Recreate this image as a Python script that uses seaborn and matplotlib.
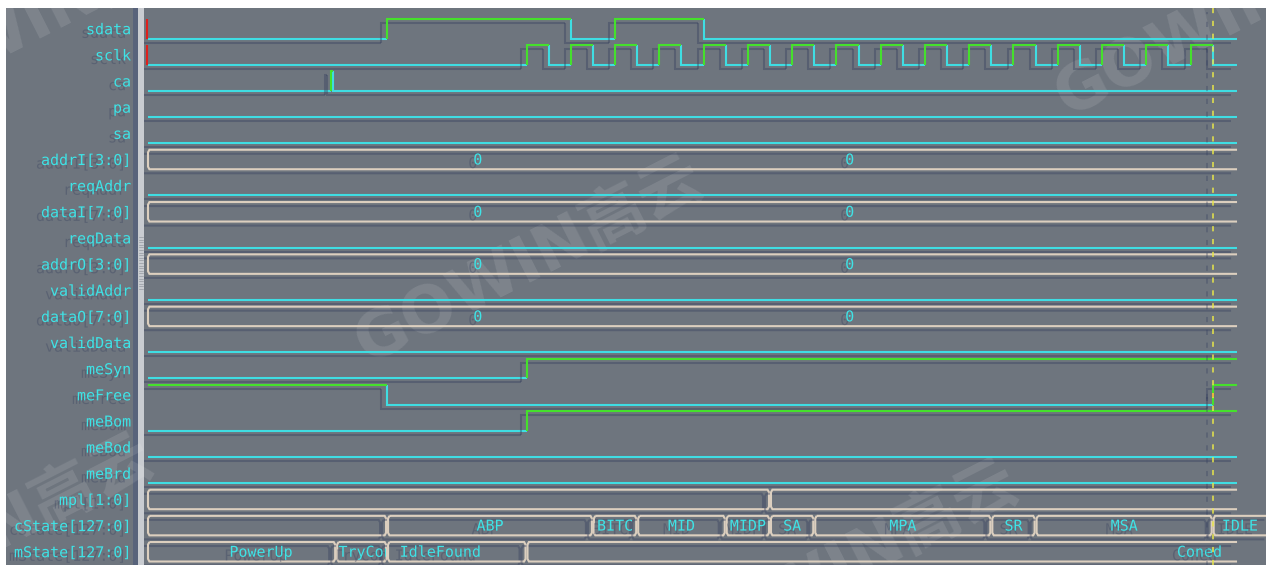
import numpy as np
import pandas as pd
import matplotlib
matplotlib.use("Agg")
import matplotlib.pyplot as plt
import matplotlib.patheffects as pe
from matplotlib.patches import Rectangle
from matplotlib.lines import Line2D
import seaborn as sns

# ---------------- signal data (times in ns) ----------------
signal_names = ["sdata", "sclk", "ca", "pa", "sa", "addrI[3:0]", "reqAddr",
                "dataI[7:0]", "reqData", "addrO[3:0]", "validAddr", "dataO[7:0]",
                "validData", "meSyn", "meFree", "meBom", "meBod", "meBrd",
                "mpl[1:0]", "cState[127:0]", "mState[127:0]"]

# single-bit signals: change times and the level held from each time on
sdata_t = [0, 108, 191, 211, 251]
sdata_v = [0, 1, 0, 1, 0]
sclk_t = [0, 171, 181, 191, 201, 211, 221, 231, 241, 251, 261, 271, 281, 291, 301,
          311, 321, 331, 341, 351, 361, 371, 381, 391, 401, 411, 421, 431, 441,
          451, 461, 471, 481]
sclk_v = [0, 1, 0, 1, 0, 1, 0, 1, 0, 1, 0, 1, 0, 1, 0, 1, 0,
          1, 0, 1, 0, 1, 0, 1, 0, 1, 0, 1, 0, 1, 0, 1, 0]
ca_t = [0, 82.7, 83.7]
ca_v = [0, 1, 0]
meSyn_t = [0, 171]
meSyn_v = [0, 1]
meFree_t = [0, 108, 481]
meFree_v = [1, 0, 1]
meBom_t = [0, 171]
meBom_v = [0, 1]
quiet_t = [0]
quiet_v = [0]

# unknown (X) glitches: signal, time
unknown_marks = [("sdata", 0), ("sclk", 0), ("meFree", 481)]

# bus signals: segment start times and values
addrI_t = [0]
addrI_v = ["0"]
dataI_t = [0]
dataI_v = ["0"]
addrO_t = [0]
addrO_v = ["0"]
dataO_t = [0]
dataO_v = ["0"]
zero_label_t = [149, 317]
mpl_t = [0, 281]
mpl_v = ["", ""]
cState_t = [0, 108, 201, 221, 261, 281, 301, 381, 401, 481]
cState_v = ["", "ABP", "BITC", "MID", "MIDP", "SA", "MPA", "SR", "MSA", "IDLE"]
mState_t = [0, 85, 108, 171]
mState_v = ["PowerUp", "TryConnect", "IdleFound", "Coned"]
mState_label_t = [51, 85, 132, 475]

t_end = 492
cursor_t = 481.3

# ---------------- layout ----------------
FIG_W, FIG_H = 1266, 565
PX_PER_NS = 2.2135
T0_PX = 148.0
ROW_PITCH = 26.15
FIRST_LOW = 38.5
SWING = 19.5

BG = "#6e757e"
CYAN = "#3fdde3"
GREEN = "#45e02c"
BUS = "#dccfbf"
RED = "#e0201c"
TEXT = "#3fe3e6"

sns.set_theme(style="white")
plt.rcParams["font.family"] = ["DejaVu Sans Mono", "Noto Sans CJK SC", "DejaVu Sans"]


def px_to_t(px):
    return (px - T0_PX) / PX_PER_NS


def low_y(row):
    return FIRST_LOW + row * ROW_PITCH


def high_y(row):
    return low_y(row) - SWING


fig = plt.figure(figsize=(FIG_W / 100, FIG_H / 100), dpi=100)
fig.patch.set_facecolor("white")


def fx(px):
    return px / FIG_W


def fy(py):
    return 1 - py / FIG_H


# panel backgrounds
fig.patches.append(Rectangle((fx(6), 0), 1 - fx(6), fy(8), transform=fig.transFigure,
                             facecolor=BG, edgecolor="none", zorder=0))
fig.patches.append(Rectangle((fx(133), 0), fx(138) - fx(133), fy(8), transform=fig.transFigure,
                             facecolor="#58637b", edgecolor="none", zorder=1))
fig.patches.append(Rectangle((fx(138), 0), fx(144) - fx(138), fy(8), transform=fig.transFigure,
                             facecolor="#c9ccd1", edgecolor="none", zorder=1))
for gy in np.arange(237, 290, 2.6):
    fig.add_artist(Line2D([fx(139), fx(143)], [fy(gy), fy(gy)], color="#9ea3aa",
                          lw=0.6, transform=fig.transFigure, zorder=2))

# watermark, clipped to the grey panel
panel = Rectangle((fx(6), 0), 1 - fx(6), fy(8), transform=fig.transFigure,
                  facecolor="none", edgecolor="none")
wm_kw = dict(fontsize=46, fontweight="bold", color="white", alpha=0.11, rotation=27,
             ha="center", va="center", family=["DejaVu Sans", "Noto Sans CJK SC"], zorder=1)
for wx, wy in [(530, 262), (845, 566), (1230, 15), (-20, 540), (40, 18)]:
    wt = fig.text(fx(wx), fy(wy), "GOWIN高云", **wm_kw)
    wt.set_clip_path(panel)

ax = fig.add_axes([fx(144), 0, 1 - fx(144), fy(8)])
ax.set_xlim(px_to_t(144), px_to_t(FIG_W))
ax.set_ylim(FIG_H, 8)
ax.set_axis_off()
ax.set_zorder(4)

lax = fig.add_axes([fx(6), 0, fx(133) - fx(6), fy(8)])
lax.set_xlim(6, 133)
lax.set_ylim(FIG_H, 8)
lax.set_axis_off()
lax.set_zorder(4)

line_shadow = [pe.SimpleLineShadow(offset=(-4.3, -2.9), shadow_color="#36405e", alpha=0.4),
               pe.Normal()]
text_shadow = [pe.withSimplePatchShadow(offset=(-3.6, -2.6), shadow_rgbFace="#36405e",
                                        alpha=0.35)]

bits = {"sdata": (sdata_t, sdata_v), "sclk": (sclk_t, sclk_v), "ca": (ca_t, ca_v),
        "meSyn": (meSyn_t, meSyn_v), "meFree": (meFree_t, meFree_v),
        "meBom": (meBom_t, meBom_v)}
for name in ["pa", "sa", "reqAddr", "reqData", "validAddr", "validData", "meBod", "meBrd"]:
    bits[name] = (quiet_t, quiet_v)

buses = {"addrI[3:0]": (addrI_t, addrI_v), "dataI[7:0]": (dataI_t, dataI_v),
         "addrO[3:0]": (addrO_t, addrO_v), "dataO[7:0]": (dataO_t, dataO_v),
         "mpl[1:0]": (mpl_t, mpl_v), "cState[127:0]": (cState_t, cState_v),
         "mState[127:0]": (mState_t, mState_v)}

t_right = px_to_t(FIG_W) + 2
records = []
pid = 0

# single-bit traces: each level segment with its leading edge
for name, (times, levels) in bits.items():
    row = signal_names.index(name)
    for k, (t0, v) in enumerate(zip(times, levels)):
        t1 = times[k + 1] if k + 1 < len(times) else t_end
        y = high_y(row) if v else low_y(row)
        prev = (high_y(row) if levels[k - 1] else low_y(row)) if k > 0 else y
        kind = "high" if v else "low"
        for t, yy in [(t0, prev), (t0, y), (t1, y)]:
            records.append(dict(path=pid, t=t, y=yy, kind=kind))
        pid += 1

# bus traces: hexagon-style outlines per segment
gap = 1.0 / PX_PER_NS
w = 1.4 / PX_PER_NS
h = 2.6
bus_segments = []
for name, (starts, values) in buses.items():
    row = signal_names.index(name)
    top, bot = high_y(row), low_y(row)
    end_t = t_right if name == "cState[127:0]" else t_end
    for k, (s, val) in enumerate(zip(starts, values)):
        e = starts[k + 1] if k + 1 < len(starts) else end_t
        s0 = s if k == 0 else s + gap
        e0 = e - gap if k + 1 < len(starts) else e
        outline = [(s0 + w, top), (e0 - w, top), (e0, top + h), (e0, bot - h),
                   (e0 - w, bot), (s0 + w, bot), (s0, bot - h), (s0, top + h), (s0 + w, top)]
        if k + 1 == len(starts):
            outline = [(e0, top), (s0 + w, top), (s0, top + h), (s0, bot - h),
                       (s0 + w, bot), (e0, bot)]
        for t, yy in outline:
            records.append(dict(path=pid, t=t, y=yy, kind="bus"))
        pid += 1
        bus_segments.append((name, row, s0, e0, val, k))

for name, t in unknown_marks:
    row = signal_names.index(name)
    if t == 0:
        ys = [high_y(row), low_y(row)]
    else:
        ys = [low_y(row) - SWING * 0.62, low_y(row) - SWING * 0.38]
    for yy in ys:
        records.append(dict(path=pid, t=t - (0.6 if t == 0 else 0), y=yy, kind="x"))
    pid += 1

df = pd.DataFrame(records)
sns.lineplot(data=df, x="t", y="y", hue="kind", units="path", estimator=None, sort=False,
             hue_order=["low", "high", "bus", "x"],
             palette={"low": CYAN, "high": GREEN, "bus": BUS, "x": RED},
             legend=False, linewidth=1.5, solid_joinstyle="miter", solid_capstyle="butt",
             path_effects=line_shadow, ax=ax)

# bus value labels
label_kw = dict(color=TEXT, fontsize=10.8, va="center", path_effects=text_shadow,
                zorder=5, clip_on=True)
char_ns = 9.0 / PX_PER_NS
for name, row, s0, e0, val, k in bus_segments:
    mid = (high_y(row) + low_y(row)) / 2 + 0.5
    clip = Rectangle((s0, high_y(row)), e0 - s0, SWING, transform=ax.transData,
                     facecolor="none", edgecolor="none")
    ax.add_patch(clip)
    if name in ("addrI[3:0]", "dataI[7:0]", "addrO[3:0]", "dataO[7:0]"):
        for lt in zero_label_t:
            ax.text(lt, mid, val, ha="center", **label_kw)
        continue
    if not val:
        continue
    if name == "mState[127:0]":
        anchor = mState_label_t[k]
    else:
        anchor = (s0 + min(e0, px_to_t(FIG_W))) / 2
    if len(val) * char_ns > (e0 - s0):
        txt = ax.text(s0 + 0.6, mid, val, ha="left", **label_kw)
    else:
        txt = ax.text(anchor, mid, val, ha="center", **label_kw)
    txt.set_clip_path(clip)

# cursor
ax.axvline(cursor_t, color="#e8e64a", lw=1.1, ls=(0, (3.4, 5.0)), zorder=6,
           path_effects=line_shadow)

# signal names
for i, name in enumerate(signal_names):
    lax.text(131, low_y(i) - SWING / 2 + 1, name, ha="right", va="center", color=TEXT,
             fontsize=10.8, path_effects=text_shadow)

fig.savefig("out.png", dpi=100, facecolor=fig.get_facecolor())
